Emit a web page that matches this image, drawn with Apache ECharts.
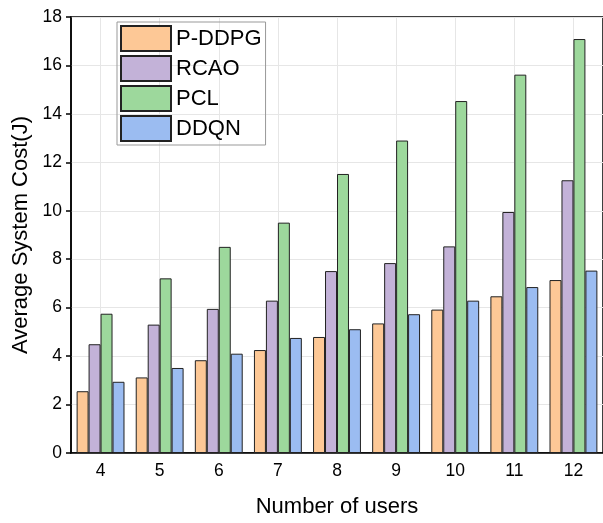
<!DOCTYPE html>
<html lang="en">
<head>
    <meta charset="UTF-8">
    <script src="https://cdn.jsdelivr.net/npm/echarts@6/dist/echarts.min.js"></script>
    <title>Average System Cost</title>
    <style>
        html, body { margin: 0; padding: 0; background: #fff; }
    </style>
</head>
<body>
<div id="main" style="width: 603px;height:523px;"></div>
<script type="text/javascript">
    // data
    var users = ['4', '5', '6', '7', '8', '9', '10', '11', '12'];
    var pddpg = [2.55, 3.12, 3.83, 4.25, 4.79, 5.35, 5.92, 6.47, 7.14];
    var rcao = [4.49, 5.30, 5.95, 6.29, 7.51, 7.84, 8.53, 9.95, 11.26];
    var pcl = [5.75, 7.21, 8.51, 9.51, 11.52, 12.90, 14.53, 15.62, 17.09];
    var ddqn = [2.94, 3.51, 4.10, 4.75, 5.11, 5.73, 6.29, 6.85, 7.53];
    var yTicks = [0, 2, 4, 6, 8, 10, 12, 14, 16, 18];

    var font = 'Liberation Sans, Arial, sans-serif';

    var myChart = echarts.init(document.getElementById('main'));

    function bar(name, data, color) {
        return {
            name: name,
            type: 'bar',
            data: data,
            xAxisIndex: 0,
            barGap: '0%',
            barCategoryGap: '19%',
            itemStyle: {color: color, borderColor: '#222', borderWidth: 1},
            emphasis: {disabled: true}
        };
    }

    var option = {
        animation: false,
        grid: {
            left: 71,
            top: 17,
            right: -10,
            bottom: 70,
            show: true,
            borderColor: '#000',
            borderWidth: 1.5
        },
        legend: {
            orient: 'vertical',
            left: 117,
            top: 22,
            padding: [3, 4, 3, 3],
            icon: 'rect',
            itemWidth: 50,
            itemHeight: 25,
            itemGap: 3,
            borderColor: '#999',
            borderWidth: 1,
            textStyle: {fontFamily: font, fontSize: 22, color: '#000'},
            data: ['P-DDPG', 'RCAO', 'PCL', 'DDQN']
        },
        xAxis: [
            {
                type: 'category',
                data: users,
                name: 'Number of users',
                nameLocation: 'middle',
                nameGap: 43,
                nameTextStyle: {fontFamily: font, fontSize: 22, color: '#000'},
                axisLine: {lineStyle: {color: '#000', width: 1.5}},
                axisTick: {alignWithLabel: true, length: 6, lineStyle: {color: '#000', width: 1.5}},
                axisLabel: {fontFamily: font, fontSize: 17.5, color: '#000', margin: 9},
                splitLine: {show: true, alignWithLabel: true, lineStyle: {color: '#e6e6e6', width: 1}}
            },
            {
                type: 'category',
                data: users,
                position: 'bottom',
                axisLine: {show: false},
                axisTick: {length: 4, lineStyle: {color: '#000', width: 1.5}},
                axisLabel: {show: false},
                splitLine: {show: false}
            }
        ],
        yAxis: {
            type: 'value',
            min: yTicks[0],
            max: yTicks[yTicks.length - 1],
            interval: 2,
            name: 'Average System Cost(J)',
            nameLocation: 'middle',
            nameGap: 31,
            nameTextStyle: {fontFamily: font, fontSize: 22, color: '#000'},
            axisLine: {show: true, lineStyle: {color: '#000', width: 1.5}},
            axisTick: {show: true, length: 5, lineStyle: {color: '#000', width: 1.5}},
            axisLabel: {fontFamily: font, fontSize: 17.5, color: '#000', margin: 9},
            splitLine: {show: true, lineStyle: {color: '#e6e6e6', width: 1}}
        },
        series: [
            bar('P-DDPG', pddpg, '#fdc896'),
            bar('RCAO', rcao, '#c3b2d8'),
            bar('PCL', pcl, '#9dd89c'),
            bar('DDQN', ddqn, '#9bbcf1')
        ]
    };

    myChart.setOption(option);
</script>
</body>
</html>
